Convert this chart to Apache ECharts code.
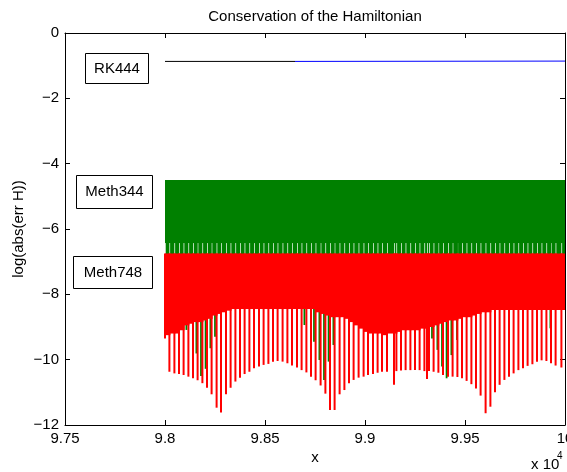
<!DOCTYPE html>
<html>
<head>
<meta charset="utf-8">
<script src="https://cdn.jsdelivr.net/npm/echarts@6/dist/echarts.min.js"></script>
<style>
html,body{margin:0;padding:0;background:#fff;}
#chart{width:567px;height:472px;}
</style>
</head>
<body>
<div id="chart"></div>
<script>
// ---- data (x in units of 10^4) ----
const xTicks = [9.75, 9.8, 9.85, 9.9, 9.95, 10];
const yTicks = [0, -2, -4, -6, -8, -10, -12];

const rkBlackX = [9.8, 9.865];
const rkBlackY = [-0.87, -0.87];
const rkBlueX = [9.865, 10];
const rkBlueY = [-0.87, -0.86];

const m344Band = [-4.5, -6.43];   // upper / lower edge of the dense green oscillation
const m748Band = [-6.75];          // upper edge of the dense red oscillation

const spikeX = [9.8000,9.8022,9.8047,9.8070,9.8093,9.8117,9.8140,9.8163,9.8187,9.8210,
  9.8233,9.8258,9.8280,9.8305,9.8328,9.8352,9.8375,9.8398,9.8422,9.8445,
  9.8470,9.8493,9.8517,9.8540,9.8563,9.8588,9.8612,9.8635,9.8660,9.8683,
  9.8707,9.8730,9.8753,9.8778,9.8802,9.8825,9.8848,9.8873,9.8897,9.8920,
  9.8943,9.8968,9.8993,9.9015,9.9040,9.9063,9.9085,9.9110,9.9145,9.9157,
  9.9180,9.9203,9.9227,9.9250,9.9273,9.9297,9.9310,9.9320,9.9343,9.9367,
  9.9390,9.9415,9.9438,9.9462,9.9485,9.9508,9.9532,9.9555,9.9578,9.9603,
  9.9627,9.9650,9.9673,9.9697,9.9720,9.9743,9.9767,9.9790,9.9813,9.9837,
  9.9860,9.9883,9.9907,9.9930,9.9953,9.9982];
const m748Min = [-9.35,-10.37,-10.42,-10.44,-10.47,-10.52,-10.57,-10.63,-10.72,-10.86,
  -11.06,-11.47,-11.62,-11.06,-10.86,-10.67,-10.55,-10.44,-10.37,-10.26,
  -10.21,-10.16,-10.13,-10.06,-10.04,-10.06,-10.11,-10.18,-10.24,-10.32,
  -10.39,-10.52,-10.63,-10.79,-11.04,-11.54,-11.54,-11.06,-10.93,-10.72,
  -10.62,-10.55,-10.52,-10.47,-10.44,-10.40,-10.37,-10.37,-10.77,-10.35,
  -10.33,-10.32,-10.32,-10.32,-10.32,-10.35,-10.59,-10.35,-10.37,-10.40,
  -10.47,-10.52,-10.52,-10.53,-10.57,-10.65,-10.75,-10.88,-11.10,-11.64,
  -11.44,-11.00,-10.77,-10.62,-10.52,-10.42,-10.32,-10.26,-10.19,-10.14,
  -10.06,-10.02,-10.04,-10.11,-10.18,-10.24];
const m748Dense = [-9.25,-9.2,-9.2,-9.1,-8.95,-8.9,-8.85,-8.85,-8.8,-8.75,
  -8.65,-8.6,-8.55,-8.5,-8.45,-8.45,-8.45,-8.45,-8.45,-8.45,
  -8.45,-8.45,-8.45,-8.45,-8.45,-8.45,-8.45,-8.45,-8.45,-8.45,
  -8.45,-8.45,-8.55,-8.6,-8.65,-8.7,-8.7,-8.7,-8.75,-8.85,
  -8.95,-9.05,-9.15,-9.2,-9.2,-9.2,-9.25,-9.2,-9.2,-9.15,
  -9.1,-9.1,-9.1,-9.1,-9.05,-9.05,-9.0,-9.0,-8.95,-8.9,
  -8.85,-8.8,-8.8,-8.75,-8.7,-8.7,-8.65,-8.6,-8.55,-8.55,
  -8.48,-8.48,-8.48,-8.48,-8.48,-8.48,-8.48,-8.48,-8.48,-8.48,
  -8.48,-8.48,-8.48,-8.48,-8.48,-8.48];

const m344DeepX = [9.8107,9.8157,9.8180,9.8203,9.8227,9.8250,9.8293,9.8697,9.8745,9.8772,
  9.8795,9.8818,9.8842,9.9335,9.9362,9.9385,9.9408,9.9432,9.9460,9.9927];
const m344DeepMin = [-9.09,-9.81,-10.50,-10.28,-9.65,-9.30,-8.53,-8.94,-9.45,-10.01,
  -10.62,-10.06,-9.55,-9.35,-9.70,-10.21,-10.57,-9.86,-9.40,-9.04];

const labels = ['RK444', 'Meth344', 'Meth748'];
// ---------------------------------

const FONT = '"Liberation Sans", Arial, Helvetica, sans-serif';
const xEnd = xTicks[xTicks.length - 1];
const fmtX = v => String(parseFloat(v.toFixed(2)));
const fmtY = v => String(v).replace('-', '\u2212');

const chart = echarts.init(document.getElementById('chart'), null, {renderer: 'canvas'});

const green = '#008000', red = '#ff0000';

const m344Data = spikeX.map((x, i) => [x, m344Band[0], m344Band[1]]);
const m748Data = spikeX.map((x, i) => [x, m748Min[i], m748Dense[i]]);
const m344DeepData = m344DeepX.map((x, i) => [x, m344DeepMin[i]]);

function nextX(i) { return i + 1 < spikeX.length ? spikeX[i + 1] : xEnd; }

const axisCommon = {
  axisLine: {show: true, onZero: false, lineStyle: {color: '#000', width: 1}},
  axisTick: {show: true, inside: true, length: 5, lineStyle: {color: '#000'}},
  splitLine: {show: false}
};

const option = {
  animation: false,
  backgroundColor: '#fff',
  grid: {left: 65, right: 2, top: 33, bottom: 47, containLabel: false, outerBoundsMode: 'none'},
  xAxis: [
    Object.assign({type: 'value', min: xTicks[0], max: xEnd, interval: 0.05, position: 'bottom',
      axisLabel: {color: '#000', fontSize: 15, fontFamily: FONT, margin: 6, formatter: fmtX, showMaxLabel: true, hideOverlap: false}}, axisCommon),
    Object.assign({type: 'value', min: xTicks[0], max: xEnd, interval: 0.05, position: 'top',
      axisLabel: {show: false}}, axisCommon)
  ],
  yAxis: [
    Object.assign({type: 'value', min: -12, max: 0, interval: 2, position: 'left',
      axisLabel: {color: '#000', fontSize: 15, fontFamily: FONT, margin: 6, formatter: fmtY}}, axisCommon),
    Object.assign({type: 'value', min: -12, max: 0, interval: 2, position: 'right',
      axisLabel: {show: false}}, axisCommon)
  ],
  series: [
    {
      type: 'custom', name: 'Meth344 band', clip: true,
      data: m344Data, encode: {x: 0, y: 1},
      renderItem: function (params, api) {
        const i = params.dataIndex;
        const x0 = api.value(0), x1 = nextX(i);
        const a = api.coord([x0, api.value(1)]);
        const b = api.coord([x1, api.value(2)]);
        const c = api.coord([x1, m748Band[0]]);
        return {type: 'group', children: [
          {type: 'rect', shape: {x: a[0], y: a[1], width: b[0] - a[0] + 1, height: b[1] - a[1]}, style: {fill: green}},
          {type: 'rect', shape: {x: a[0] + 0.7, y: b[1] - 0.5, width: b[0] - a[0] - 0.7, height: c[1] - b[1] + 1}, style: {fill: green}}
        ]};
      }
    },
    {
      type: 'custom', name: 'Meth344 spikes', clip: true,
      data: m344DeepData, encode: {x: 0, y: 1},
      renderItem: function (params, api) {
        const t = api.coord([api.value(0), m344Band[1]]);
        const b = api.coord([api.value(0), api.value(1)]);
        return {type: 'rect', shape: {x: t[0] - 0.9, y: t[1], width: 1.8, height: b[1] - t[1]}, style: {fill: green}};
      }
    },
    {
      type: 'custom', name: 'Meth748', clip: true,
      data: m748Data, encode: {x: 0, y: 1},
      renderItem: function (params, api) {
        const i = params.dataIndex;
        const x0 = api.value(0), x1 = nextX(i);
        const a = api.coord([x0, m748Band[0]]);
        const b = api.coord([x1, api.value(2)]);
        const s = api.coord([x0, api.value(1)]);
        return {type: 'group', children: [
          {type: 'rect', shape: {x: a[0], y: a[1], width: b[0] - a[0] + 1, height: b[1] - a[1]}, style: {fill: red}},
          {type: 'rect', shape: {x: s[0] - 1, y: a[1], width: 2, height: s[1] - a[1]}, style: {fill: red}}
        ]};
      }
    },
    {
      type: 'line', name: 'RK444a', data: rkBlackX.map((x, i) => [x, rkBlackY[i]]),
      showSymbol: false, lineStyle: {color: '#000', width: 1}, z: 5
    },
    {
      type: 'line', name: 'RK444b', data: rkBlueX.map((x, i) => [x, rkBlueY[i]]),
      showSymbol: false, lineStyle: {color: '#0000ff', width: 1}, z: 5
    }
  ],
  graphic: [
    {type: 'text', x: 315, y: 17, style: {text: 'Conservation of the Hamiltonian', fill: '#000', font: '15px ' + FONT, textAlign: 'center', textVerticalAlign: 'middle'}},
    {type: 'text', x: 315, y: 458, style: {text: 'x', fill: '#000', font: '15px ' + FONT, textAlign: 'center', textVerticalAlign: 'middle'}},
    {type: 'text', x: 19, y: 229, rotation: Math.PI / 2, style: {text: 'log(abs(err H))', fill: '#000', font: '15px ' + FONT, textAlign: 'center', textVerticalAlign: 'middle'}},
    {type: 'text', x: 531, y: 465, style: {text: 'x 10', fill: '#000', font: '15px ' + FONT, textAlign: 'left', textVerticalAlign: 'middle'}},
    {type: 'text', x: 557, y: 456, style: {text: '4', fill: '#000', font: '10px ' + FONT, textAlign: 'left', textVerticalAlign: 'middle'}},
    {type: 'rect', shape: {x: 85.5, y: 53.5, width: 63, height: 30}, style: {fill: '#fff', stroke: '#000', lineWidth: 1}, z: 10},
    {type: 'text', x: 117, y: 68.5, style: {text: labels[0], fill: '#000', font: '15px ' + FONT, textAlign: 'center', textVerticalAlign: 'middle'}, z: 11},
    {type: 'rect', shape: {x: 76.5, y: 175.5, width: 76, height: 33}, style: {fill: '#fff', stroke: '#000', lineWidth: 1}, z: 10},
    {type: 'text', x: 114.5, y: 192, style: {text: labels[1], fill: '#000', font: '15px ' + FONT, textAlign: 'center', textVerticalAlign: 'middle'}, z: 11},
    {type: 'rect', shape: {x: 73.5, y: 256.5, width: 79, height: 32}, style: {fill: '#fff', stroke: '#000', lineWidth: 1}, z: 10},
    {type: 'text', x: 113, y: 272.5, style: {text: labels[2], fill: '#000', font: '15px ' + FONT, textAlign: 'center', textVerticalAlign: 'middle'}, z: 11}
  ]
};
chart.setOption(option);
</script>
</body>
</html>
